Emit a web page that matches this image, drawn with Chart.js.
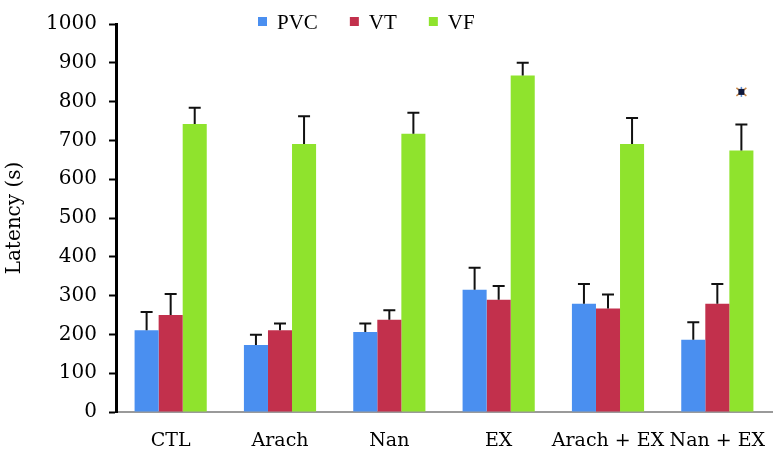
<!DOCTYPE html>
<html lang="en">
<head>
    <meta charset="UTF-8">
    <title>Latency</title>
    <script src="https://cdn.jsdelivr.net/npm/chart.js"></script>
    <style>
        body {
            margin: 0;
            padding: 0;
            background: white;
        }
        .chart-box {
            width: 780px;
            height: 468px;
        }
    </style>
</head>
<body>
    <div class="chart-box">
        <canvas id="latencyChart"></canvas>
    </div>

    <script>
        const categories = ['CTL', 'Arach', 'Nan', 'EX', 'Arach + EX', 'Nan + EX'];
        const pvcValues = [211, 173, 206, 315, 279, 186];
        const pvcErrors = [47, 26, 22, 57, 51, 45];
        const vtValues = [250, 211, 238, 289, 267, 279];
        const vtErrors = [54, 17, 24, 36, 36, 51];
        const vfValues = [742, 691, 717, 867, 691, 674];
        const vfErrors = [42, 71, 54, 33, 67, 67];
        // significance mark: [category index, value]
        const starMarks = [[5, 825]];

        const serif = "'DejaVu Serif', serif";

        // error bars + star mark
        const errorBars = {
            id: 'errorBars',
            afterDatasetsDraw(chart) {
                const ctx = chart.ctx;
                const y = chart.scales.y;
                ctx.save();
                ctx.strokeStyle = '#111';
                ctx.lineWidth = 2;
                chart.data.datasets.forEach((ds, i) => {
                    const meta = chart.getDatasetMeta(i);
                    meta.data.forEach((bar, j) => {
                        const top = y.getPixelForValue(ds.data[j] + ds.errors[j]);
                        ctx.beginPath();
                        ctx.moveTo(bar.x, bar.y);
                        ctx.lineTo(bar.x, top);
                        ctx.moveTo(bar.x - 6, top);
                        ctx.lineTo(bar.x + 6, top);
                        ctx.stroke();
                    });
                });

                const vfMeta = chart.getDatasetMeta(2);
                starMarks.forEach(([idx, val]) => {
                    const sx = vfMeta.data[idx].x;
                    const sy = y.getPixelForValue(val);
                    ctx.strokeStyle = '#c98a4a';
                    ctx.lineWidth = 1.5;
                    ctx.beginPath();
                    ctx.moveTo(sx - 5, sy - 4); ctx.lineTo(sx + 5, sy + 4);
                    ctx.moveTo(sx - 5, sy + 4); ctx.lineTo(sx + 5, sy - 4);
                    ctx.stroke();
                    ctx.strokeStyle = '#5b8fd8';
                    ctx.beginPath();
                    ctx.moveTo(sx, sy - 5); ctx.lineTo(sx, sy + 5);
                    ctx.stroke();
                    ctx.fillStyle = '#10183a';
                    ctx.fillRect(sx - 3, sy - 3, 6, 6);
                });
                ctx.restore();
            }
        };

        // legend drawn over the top of the plot
        const topLegend = {
            id: 'topLegend',
            afterDraw(chart) {
                const ctx = chart.ctx;
                ctx.save();
                ctx.font = "21px 'Liberation Serif', serif";
                ctx.textBaseline = 'middle';
                let x = 258;
                const cy = 22;
                chart.data.datasets.forEach(ds => {
                    ctx.fillStyle = ds.backgroundColor;
                    ctx.fillRect(x, cy - 5, 9, 9);
                    ctx.fillStyle = '#000';
                    ctx.fillText(ds.label, x + 19, cy + 1);
                    x += 19 + ctx.measureText(ds.label).width + 32;
                });
                ctx.restore();
            }
        };

        new Chart(document.getElementById('latencyChart'), {
            type: 'bar',
            data: {
                labels: categories,
                datasets: [
                    { label: 'PVC', data: pvcValues, errors: pvcErrors, backgroundColor: '#4a8ff0' },
                    { label: 'VT', data: vtValues, errors: vtErrors, backgroundColor: '#c2304c' },
                    { label: 'VF', data: vfValues, errors: vfErrors, backgroundColor: '#8fe32d' }
                ]
            },
            options: {
                responsive: true,
                maintainAspectRatio: false,
                animation: false,
                datasets: {
                    bar: { barPercentage: 1, categoryPercentage: 0.66 }
                },
                layout: { padding: { top: 19, right: 8, left: 0, bottom: 0 } },
                plugins: {
                    legend: { display: false },
                    tooltip: { enabled: false }
                },
                scales: {
                    x: {
                        grid: { display: false },
                        border: { display: true, color: '#9a9a9a', width: 2 },
                        ticks: {
                            color: '#000',
                            padding: 10,
                            maxRotation: 0,
                            autoSkip: false,
                            font: { family: serif, size: 19 }
                        },
                        afterFit(scale) { scale.height = 56; }
                    },
                    y: {
                        min: 0,
                        max: 1000,
                        grid: {
                            display: true,
                            drawOnChartArea: false,
                            drawTicks: true,
                            tickLength: 7,
                            tickWidth: 2,
                            tickColor: '#000'
                        },
                        border: { display: true, color: '#000', width: 3 },
                        ticks: {
                            stepSize: 100,
                            color: '#000',
                            padding: 12,
                            font: { family: serif, size: 20 },
                            callback: v => String(v)
                        },
                        title: {
                            display: true,
                            text: 'Latency (s)',
                            color: '#000',
                            padding: 3,
                            font: { family: serif, size: 20 }
                        },
                        afterFit(scale) { scale.width = 116; }
                    }
                }
            },
            plugins: [errorBars, topLegend]
        });
    </script>
</body>
</html>
